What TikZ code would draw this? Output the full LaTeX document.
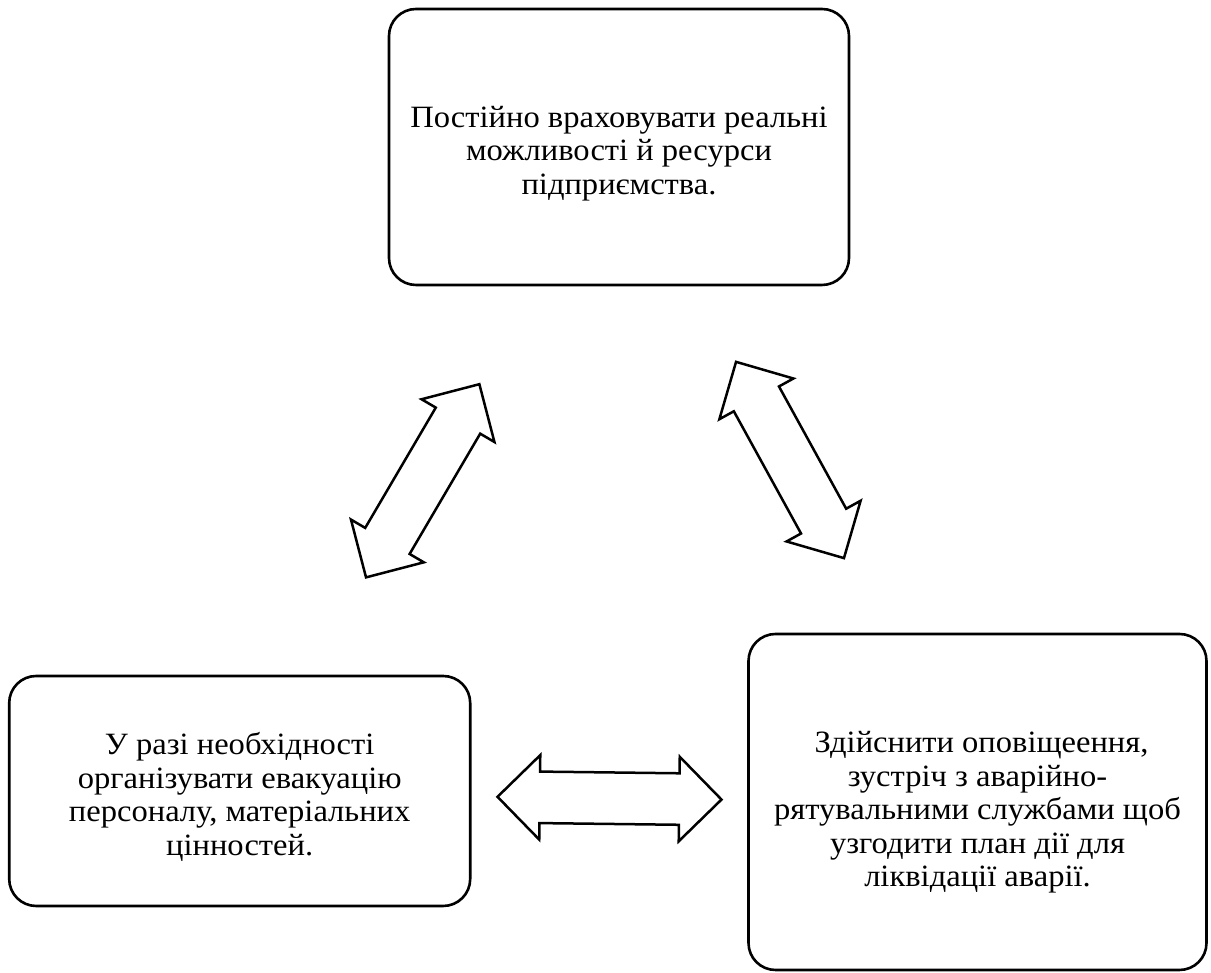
\documentclass[tikz,border=0pt]{standalone}
\usepackage{fontspec}
\setmainfont{Liberation Serif}[FakeStretch=1.05]
\usetikzlibrary{shapes.arrows}

\newcommand{\topgap}[1][34pt]{\rule{0pt}{#1}}

\tikzset{
  block/.style={draw, line width=2.6pt, rounded corners=27pt, align=center,
    inner sep=0pt, font=\fontsize{31}{33.4}\selectfont},
  twoway/.style={draw, line width=2.5pt, double arrow, double arrow head extend=16.5pt,
    minimum width=82pt, minimum height=224pt, inner xsep=0pt, inner ysep=24.5pt}
}

\begin{document}
\begin{tikzpicture}[x=1pt,y=1pt]
    \useasboundingbox (0,0) rectangle (1211,973);
    % blocks
    \node[block, minimum width=460pt, minimum height=276pt] (resources) at (619,826)
        {\topgap Постійно враховувати реальні\\можливості й ресурси\\підприємства.};
    \node[block, minimum width=461pt, minimum height=230pt] (evacuation) at (239.7,182)
        {\topgap У разі необхідності\\організувати евакуацію\\персоналу, матеріальних\\цінностей.};
    \node[block, minimum width=458pt, minimum height=336pt] (warning) at (977.5,171)
        {\topgap[42pt] Здійснити оповіщеення,\\зустріч з аварійно-\\рятувальними службами щоб\\узгодити план дії для\\ліквідації аварії.};
    % two-way arrows
    \node[twoway, rotate=59.6] (leftlink) at (422.7,492.2) {};
    \node[twoway, rotate=-61.2] (rightlink) at (790,513) {};
    \node[twoway, rotate=-0.7] (bottomlink) at (609.5,174.8) {};
\end{tikzpicture}
\end{document}
